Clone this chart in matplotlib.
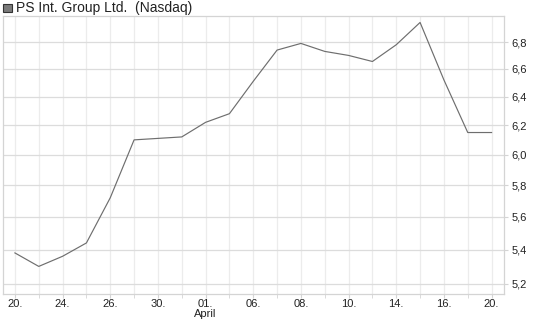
import matplotlib.pyplot as plt
import matplotlib.ticker as mticker
from matplotlib.patches import Rectangle

plt.rcParams['font.family'] = ['Liberation Sans', 'DejaVu Sans']

# trading days 20.03. - 20.04.
days = ['20.', '23.', '24.', '25.', '26.', '27.', '30.', '31.', '01.', '02.',
        '06.', '07.', '08.', '09.', '10.', '13.', '14.', '15.', '16.', '17.', '20.']
prices = [5.38, 5.30, 5.36, 5.44, 5.72, 6.10, 6.11, 6.12, 6.22, 6.28,
          6.51, 6.74, 6.79, 6.73, 6.70, 6.655, 6.78, 6.95, 6.52, 6.15, 6.15]
yticks = [5.2, 5.4, 5.6, 5.8, 6.0, 6.2, 6.4, 6.6, 6.8]
title = 'PS Int. Group Ltd.  (Nasdaq)'
month_label = 'April'

fig = plt.figure(figsize=(5.45, 3.27), dpi=100)
ax = fig.add_axes([3 / 545, 1 - 294 / 327, 500.5 / 545, 278 / 327])

x = list(range(len(prices)))
ax.plot(x, prices, color='#6e6e6e', lw=0.85, zorder=3)

ax.set_yscale('log')
ax.set_ylim(5.14, 7.0)
ax.set_xlim(-0.5, len(prices) - 0.5)

ax.yaxis.set_major_locator(mticker.FixedLocator(yticks))
ax.yaxis.set_minor_locator(mticker.NullLocator())
ax.yaxis.set_major_formatter(mticker.FuncFormatter(lambda v, p: f'{v:.1f}'.replace('.', ',')))
ax.yaxis.tick_right()

ax.set_xticks(x[::2])
ax.set_xticklabels(days[::2])
ax.set_xticks(x[1::2], minor=True)

ax.grid(True, axis='y', color='#dcdcdc', lw=0.9)
ax.grid(True, axis='x', which='both', color='#ececec', lw=0.9)
ax.set_axisbelow(True)

for s in ax.spines.values():
    s.set_color('#d4d4d4')
    s.set_linewidth(0.9)

ax.tick_params(axis='y', which='both', length=3, color='#d4d4d4', labelsize=8,
               pad=3, labelcolor='#222222')
ax.tick_params(axis='x', which='both', length=3, color='#d4d4d4', labelsize=8,
               pad=0.5, labelcolor='#222222')

# month under the 01. label
ax.text(8, -0.072, month_label, transform=ax.get_xaxis_transform(),
        ha='center', va='center', fontsize=8, color='#222222')

# legend square + title
fig.patches.append(Rectangle((3 / 545, 1 - 12 / 327), 8.5 / 545, 8.5 / 327,
                             transform=fig.transFigure, facecolor='#7a7a7a',
                             edgecolor='#333333', lw=0.8))
fig.text(16 / 545, 1 - 7.8 / 327, title, ha='left', va='center',
         fontsize=10, color='#222222')

fig.savefig('out.png', dpi=100)
